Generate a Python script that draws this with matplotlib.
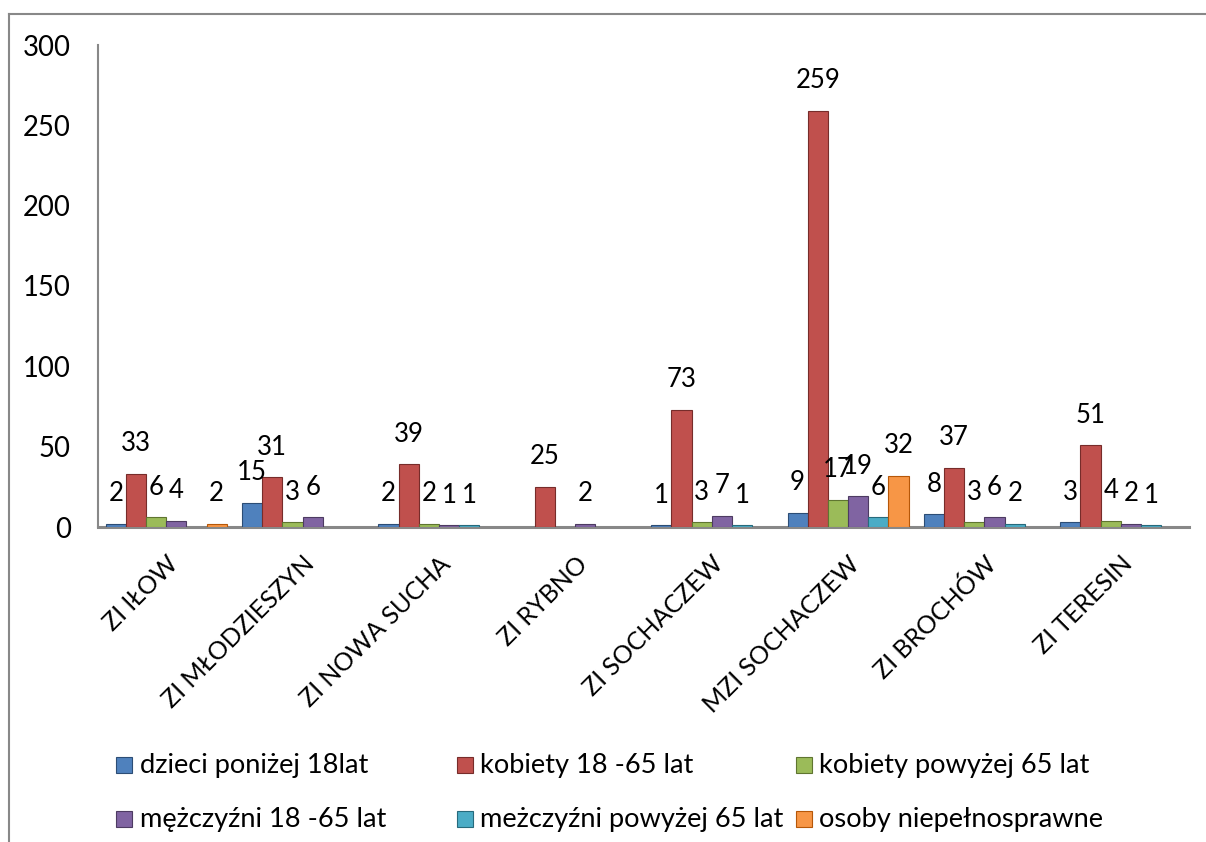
import numpy as np
import matplotlib
matplotlib.use("Agg")
import matplotlib.pyplot as plt
from matplotlib.patches import Rectangle
from matplotlib.lines import Line2D

plt.rcParams['font.family'] = ['Lato', 'DejaVu Sans']

categories = ["ZI IŁOW", "ZI MŁODZIESZYN", "ZI NOWA SUCHA", "ZI RYBNO",
              "ZI SOCHACZEW", "MZI SOCHACZEW", "ZI BROCHÓW", "ZI TERESIN"]
series_names = ["dzieci poniżej 18lat", "kobiety 18 -65 lat", "kobiety powyżej 65 lat",
                "mężczyźni 18 -65 lat", "meżczyźni powyżej 65 lat", "osoby niepełnosprawne"]
nan = np.nan
dzieci = [2, 15, 2, nan, 1, 9, 8, 3]
kobiety_18_65 = [33, 31, 39, 25, 73, 259, 37, 51]
kobiety_65 = [6, 3, 2, nan, 3, 17, 3, 4]
mezczyzni_18_65 = [4, 6, 1, 2, 7, 19, 6, 2]
mezczyzni_65 = [nan, nan, 1, nan, 1, 6, 2, 1]
niepelnosprawne = [2, nan, nan, nan, nan, 32, nan, nan]
series_values = [dzieci, kobiety_18_65, kobiety_65, mezczyzni_18_65, mezczyzni_65, niepelnosprawne]
yticks = [0, 50, 100, 150, 200, 250, 300]

colors = ["#4F81BD", "#C0504D", "#9BBB59", "#8064A2", "#4BACC6", "#F79646"]
edges = ["#2C4D75", "#772C2A", "#5F7530", "#4D3B62", "#276A7C", "#B65708"]

W, H = 1206, 842
fig = plt.figure(figsize=(W / 100, H / 100), dpi=100)
ax = fig.add_axes([98 / W, 1 - 527 / H, (1189 - 98) / W, (527 - 45) / H])

x = np.arange(len(categories))
bw = 0.148
for i, (vals, c, e) in enumerate(zip(series_values, colors, edges)):
    v = np.array(vals, dtype=float)
    pos = x + (i - 2.5) * bw
    mask = ~np.isnan(v)
    ax.bar(pos[mask], v[mask], width=bw, color=c, edgecolor=e, linewidth=0.8, zorder=3)
    for px, pv in zip(pos[mask], v[mask]):
        ax.annotate(f"{int(pv)}", (px, pv), xytext=(0, 21.6), textcoords="offset points",
                    ha="center", va="center", fontsize=18.5, color="black", zorder=5)

ax.set_xlim(-0.5, len(categories) - 0.5)
ax.set_ylim(0, 300)
ax.set_yticks(yticks)
ax.set_yticklabels([str(t) for t in yticks], fontsize=19.8)
ax.tick_params(axis="y", length=0, pad=19.5)
ax.tick_params(axis="x", length=0)
ax.set_xticks(x)
ax.set_xticklabels(categories, rotation=45, ha="right", va="top",
                   rotation_mode="anchor", fontsize=18)
for lbl in ax.get_xticklabels():
    lbl.set_y(-0.042)
for s in ["top", "right"]:
    ax.spines[s].set_visible(False)
ax.spines["left"].set_color("#888888")
ax.spines["left"].set_linewidth(1.5)
ax.spines["bottom"].set_color("#888888")
ax.spines["bottom"].set_linewidth(2.2)

# legend (manual, row-wise)
marker_cx = [124, 465, 804]
text_x = [140, 480, 819]
row_y = [765, 819]
for k, (name, c, e) in enumerate(zip(series_names, colors, edges)):
    r, col = divmod(k, 3)
    mx, my = marker_cx[col], row_y[r]
    fig.patches.append(Rectangle(((mx - 8) / W, 1 - (my + 8) / H), 16 / W, 16 / H,
                                 transform=fig.transFigure, facecolor=c, edgecolor=e,
                                 linewidth=0.8))
    fig.text(text_x[col] / W, 1 - my / H, name, ha="left", va="center", fontsize=19.6)

# outer border (left and top)
fig.lines.append(Line2D([9 / W, 9 / W], [0, 1 - 14 / H], transform=fig.transFigure,
                        color="#888888", linewidth=1.5))
fig.lines.append(Line2D([9 / W, 1], [1 - 14 / H, 1 - 14 / H], transform=fig.transFigure,
                        color="#888888", linewidth=1.5))

fig.savefig("out.png", dpi=100)
